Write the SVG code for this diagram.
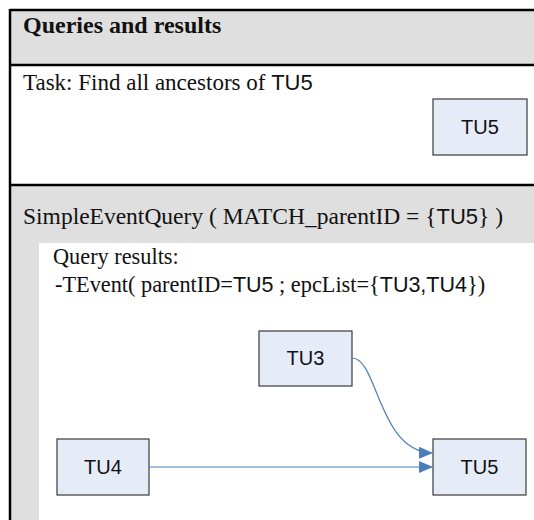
<svg xmlns="http://www.w3.org/2000/svg" width="534" height="520" viewBox="0 0 534 520">
  <style>
    .band { fill: #dfdfdf; }
    .rule { stroke: #000; stroke-width: 2.5; fill: none; }
    .serif { font-family: "Liberation Serif", "Times New Roman", serif; font-size: 23px; fill: #111; }
    .sans { font-family: "Liberation Sans", Arial, sans-serif; font-size: 22px; }
    .title { font-weight: bold; font-size: 24px; }
    .query { font-size: 23.5px; }
    .result { font-size: 22.3px; }
    .result .sans { font-size: 21.5px; }
    .node rect { fill: #e6ecf7; stroke: #3a3a3a; stroke-width: 1.2; }
    .node text { font-family: "Liberation Sans", Arial, sans-serif; font-size: 20px; fill: #111; text-anchor: middle; }
    .edge { stroke: #4a7ebb; stroke-width: 1.2; fill: none; marker-end: url(#arrow); }
  </style>
  <defs>
    <marker id="arrow" viewBox="0 0 14 12" refX="14" refY="6" markerWidth="14" markerHeight="12" markerUnits="userSpaceOnUse" orient="auto">
      <path d="M0,0 L14,6 L0,12 z" fill="#4a7ebb"/>
    </marker>
  </defs>

  <!-- panel backgrounds -->
  <rect class="band" x="10" y="10" width="524" height="55"/>
  <rect fill="#fff" x="10" y="65" width="524" height="120"/>
  <rect class="band" x="10" y="185" width="524" height="58"/>
  <rect class="band" x="10" y="243" width="29" height="277"/>

  <!-- panel rules -->
  <line class="rule" x1="10" y1="10" x2="534" y2="10"/>
  <line class="rule" x1="10" y1="65" x2="534" y2="65"/>
  <line class="rule" x1="10" y1="185" x2="534" y2="185"/>
  <line class="rule" x1="10" y1="9" x2="10" y2="520"/>

  <!-- panel texts -->
  <text class="serif title" x="23" y="33">Queries and results</text>
  <text class="serif" x="23" y="90">Task: Find all ancestors of <tspan class="sans">TU5</tspan></text>
  <text class="serif query" x="23" y="224">SimpleEventQuery ( MATCH_parentID = {<tspan class="sans">TU5</tspan>} )</text>
  <text class="serif result" x="53" y="264">Query results:</text>
  <text class="serif result" x="55" y="292">-TEvent( parentID=<tspan class="sans">TU5</tspan> ; epcList={<tspan class="sans">TU3,TU4</tspan>})</text>

  <!-- nodes -->
  <g id="task-tu5" class="node">
    <rect x="433" y="99" width="94" height="56"/>
    <text x="480" y="134">TU5</text>
  </g>
  <g id="tu3" class="node">
    <rect x="259" y="331" width="93" height="55"/>
    <text x="305.5" y="365">TU3</text>
  </g>
  <g id="tu4" class="node">
    <rect x="57" y="439" width="92" height="56"/>
    <text x="103" y="474">TU4</text>
  </g>
  <g id="tu5" class="node">
    <rect x="433" y="439" width="93" height="56"/>
    <text x="479.5" y="474">TU5</text>
  </g>

  <!-- connectors -->
  <g id="connectors">
    <path class="edge" d="M352,358 C378,358 378,452 433,453"/>
    <path class="edge" d="M149,467 L433,467"/>
  </g>
</svg>
